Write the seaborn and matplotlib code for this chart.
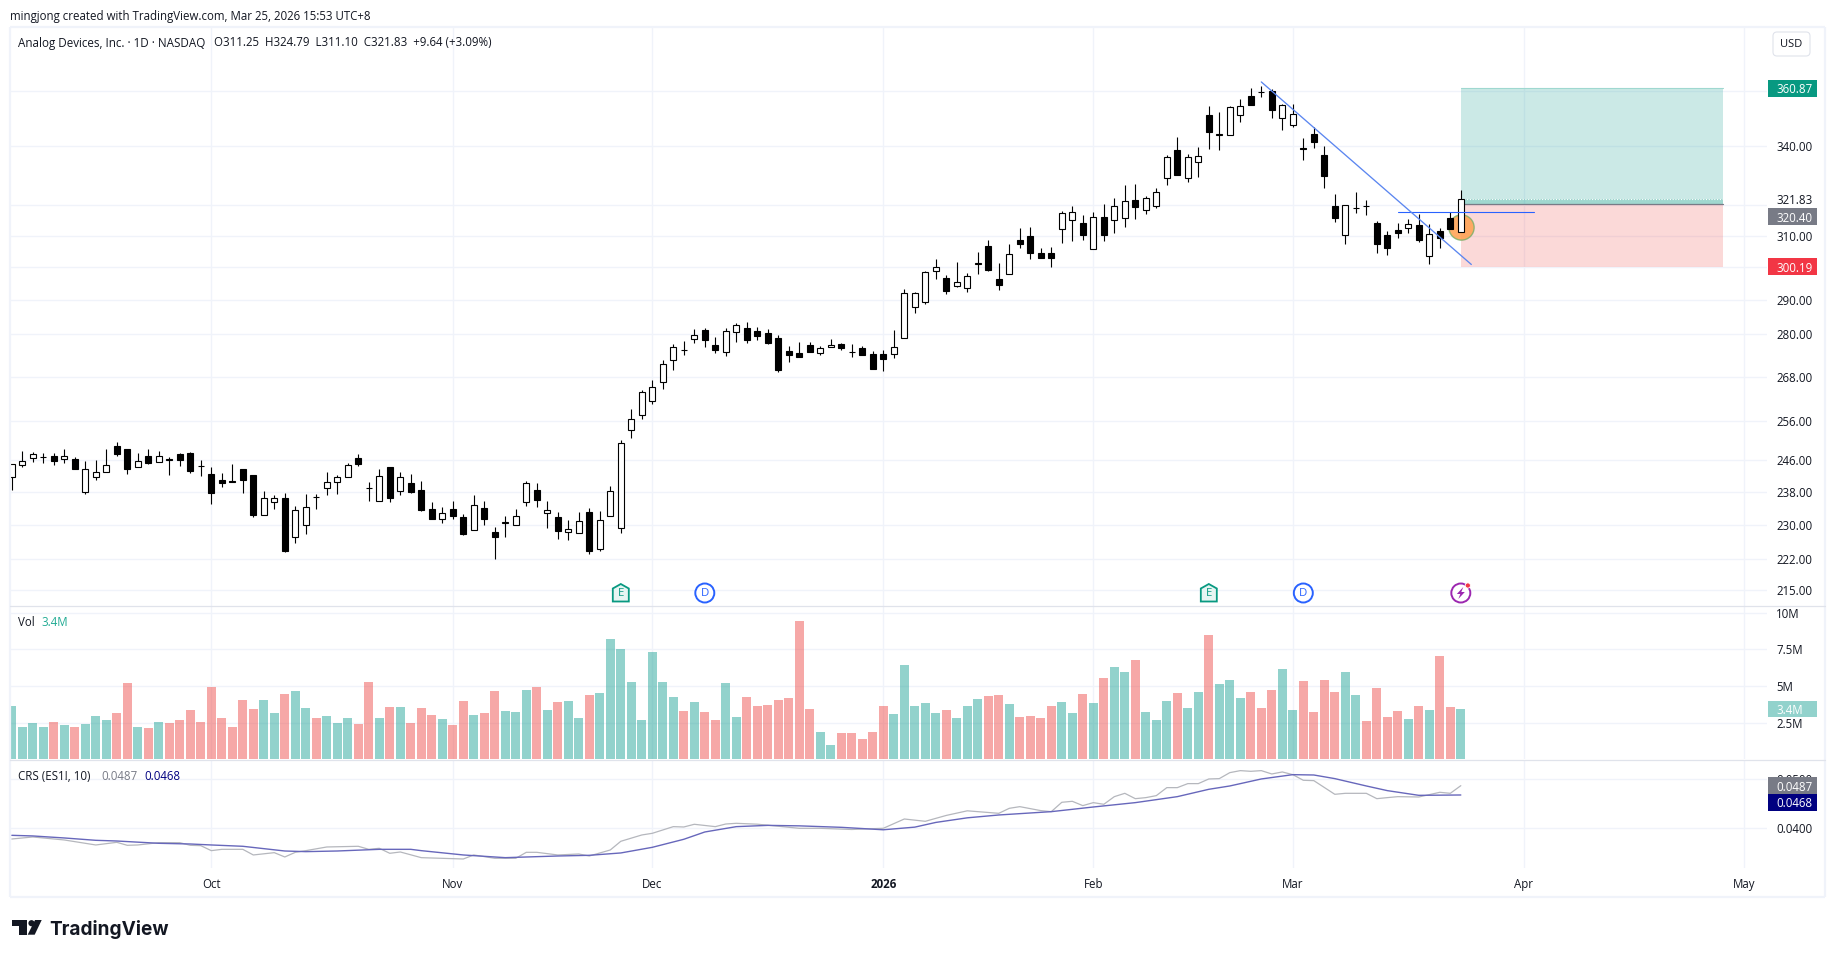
import numpy as np
import pandas as pd
import matplotlib
matplotlib.use("Agg")
import matplotlib.pyplot as plt
from matplotlib.patches import Rectangle, Polygon, Circle, FancyBboxPatch
from matplotlib.ticker import NullLocator
import seaborn as sns

# Daily bars of ADI; bar 0 is the first session of October 2025
bar_idx = np.arange(-19, 120)

opens = [241.5,244.75,246.5,246.6,246.8,246.15,246.05,237.95,241.5,242.8,
         249.6,248.6,244.25,246.8,245.5,246.1,247.3,247.8,244.4,242.4,
         240.9,240.5,243.6,242.1,232.4,235.35,236.4,227.0,229.9,236.8,
         238.95,240.3,241.5,246.3,239.0,235.8,244.1,238.2,240.1,238.4,
         233.75,231.45,233.75,231.85,228.7,234.0,228.3,230.5,230.0,235.5,
         238.4,232.9,231.85,228.35,228.1,233.05,224.3,232.15,229.3,253.75,
         257.6,261.3,266.6,272.7,275.6,278.5,281.2,276.85,274.95,280.75,
         281.8,280.95,280.35,278.9,275.1,274.55,276.85,274.65,276.3,277.15,
         275.0,276.0,274.3,274.3,274.35,278.95,288.0,289.5,299.0,296.8,
         294.4,293.8,301.2,306.7,296.5,298.1,308.65,309.95,304.45,304.45,
         312.1,315.0,314.15,305.8,316.1,314.9,315.55,321.6,318.45,319.75,
         328.85,338.65,328.85,334.65,351.1,344.1,344.05,351.2,357.95,359.55,
         359.75,350.1,347.6,339.2,344.3,336.95,319.65,310.35,318.8,319.65,
         314.15,310.25,311.85,312.3,313.5,303.45,311.55,315.75,311.25]
highs = [244.85,248.3,248.0,247.7,247.6,248.6,246.75,245.6,245.8,248.6,
         250.4,248.6,247.6,248.8,248.3,246.75,247.8,248.05,245.8,244.1,
         242.6,244.85,243.6,242.1,238.1,237.1,237.6,234.5,237.4,237.3,
         242.85,242.1,245.2,247.3,240.3,243.6,244.1,242.85,242.4,240.6,
         235.4,234.2,235.65,232.6,237.15,235.65,229.5,232.1,233.75,240.6,
         240.2,235.65,233.05,231.15,233.05,234.0,233.3,239.4,250.95,259.1,
         264.3,267.05,272.6,277.15,278.0,281.5,281.8,279.2,281.8,283.2,
         283.5,282.1,281.5,279.8,276.55,277.7,277.7,276.75,278.6,277.45,
         277.15,276.55,275.1,275.4,281.2,293.4,292.45,298.95,302.6,297.7,
         301.7,298.3,304.8,308.65,301.4,307.35,312.5,312.8,306.05,306.4,
         318.05,319.5,316.75,317.7,320.3,322.3,326.7,327.05,323.0,325.7,
         336.95,343.2,337.3,339.65,354.35,352.2,354.35,356.85,361.2,361.9,
         360.5,355.05,355.05,342.85,346.8,340.0,323.55,319.9,324.3,321.6,
         314.8,311.55,314.15,315.45,317.05,313.8,312.5,317.7,324.79]
lows = [238.4,244.2,245.4,245.15,244.6,245.15,243.6,237.4,240.9,242.8,
        246.8,242.4,244.25,244.9,245.5,242.1,244.3,242.7,241.85,234.95,
        239.1,240.4,237.6,231.9,232.4,233.75,223.55,225.7,227.8,233.75,
        237.1,237.4,241.5,244.3,235.65,235.8,235.4,237.1,237.6,233.3,
        231.4,230.4,231.4,227.55,228.7,229.95,222.1,227.1,230.0,234.45,
        234.2,229.2,226.6,226.4,228.1,223.1,223.8,232.15,228.05,251.45,
        256.5,260.45,264.55,269.95,274.0,277.4,276.3,274.55,273.75,277.7,
        277.45,278.3,277.15,269.4,272.05,273.45,274.85,274.0,276.3,275.4,
        273.45,274.0,270.2,269.65,273.15,278.95,286.1,288.85,296.5,291.85,
        294.0,292.45,298.0,298.95,293.1,297.85,306.05,302.6,302.9,300.05,
        307.65,308.3,308.65,305.8,308.3,310.9,312.85,315.45,317.05,319.0,
        326.7,330.1,327.75,329.4,339.0,338.65,344.05,348.6,354.7,357.6,
        350.0,345.7,346.9,335.2,339.3,325.7,314.45,307.35,317.4,316.75,
        304.45,303.85,309.3,310.9,308.0,301.05,306.05,312.2,311.10]
closes = [244.85,245.6,247.5,246.7,245.6,246.8,243.6,243.55,242.8,244.75,
          247.3,243.6,245.7,245.1,247.0,246.0,245.9,243.1,244.3,237.6,
          240.1,240.4,240.9,232.3,236.55,236.55,223.8,233.45,234.15,236.7,
          240.3,241.5,244.75,244.85,238.95,241.8,236.4,241.5,237.9,233.45,
          231.4,232.75,232.1,227.8,234.65,231.4,227.1,230.6,232.0,240.15,
          235.9,233.45,228.5,228.95,230.85,223.8,231.05,238.05,250.35,256.4,
          263.65,265.05,271.4,276.45,275.5,279.8,278.3,275.4,280.85,282.6,
          278.3,279.5,277.45,269.95,274.0,273.45,274.85,275.9,276.85,276.0,
          274.9,274.0,270.2,272.9,276.45,292.1,292.1,298.55,300.05,292.8,
          295.45,297.3,301.3,299.2,294.65,304.05,307.35,304.45,302.9,302.9,
          317.4,317.8,310.05,316.1,310.25,319.65,321.3,319.35,322.3,324.3,
          336.25,330.1,336.25,336.5,345.0,344.2,354.0,354.25,354.7,359.4,
          352.9,354.6,351.35,339.1,341.45,329.75,315.75,319.9,318.9,319.55,
          307.35,306.05,310.9,313.7,308.65,310.5,309.3,312.2,321.83]

# Share volume in millions
volume_m = [3.64,2.2,2.48,2.2,2.55,2.34,2.2,2.41,2.95,2.68,
            3.16,5.2,2.2,2.14,2.55,2.48,2.68,3.36,2.55,4.93,
            2.82,2.2,4.05,3.43,4.05,3.16,4.45,4.66,3.5,2.82,
            2.95,2.48,2.82,2.41,5.27,2.82,3.57,3.57,2.48,3.5,
            3.02,2.75,2.34,3.98,3.02,3.16,4.66,3.3,3.23,4.73,
            4.93,3.36,3.91,3.98,2.82,4.39,4.52,8.2,7.52,5.27,
            2.68,7.32,5.27,4.25,3.3,3.91,3.23,2.68,5.2,2.89,
            4.25,3.64,3.7,4.05,4.18,9.43,3.43,1.86,0.98,1.8,
            1.8,1.39,1.86,3.64,3.09,6.43,3.64,3.84,3.16,3.36,
            2.82,3.64,4.11,4.32,4.39,3.77,2.89,2.95,2.82,3.64,
            3.91,3.16,4.45,3.84,5.55,6.3,5.95,6.77,3.23,2.68,
            3.98,4.52,3.5,4.59,8.48,5.14,5.41,4.18,4.59,3.5,
            4.73,6.16,3.36,5.34,3.23,5.41,4.59,5.95,4.39,2.61,
            4.86,2.89,3.3,2.75,3.64,3.36,7.05,3.57,3.43]

# Comparative relative strength against ES1! and its 10-day average
crs_idx = [-19,-17,-14,-11,-9,-8,-7,-5,-3,-2,-1,0,1,3,4,6,7,8,9,11,14,15,16,17,18,20,24,25,27,29,
           30,31,33,35,36,38,39,41,42,44,45,46,48,49,50,52,56,58,61,64,66,68,70,72,75,76,77,79,80,81,
           82,83,84,85,86,87,88,89,90,91,92,93,94,95,96,97,98,99,100,101,102,103,104,105,107,108,110,
           111,112,113,115,117,118,119]
crs_raw = [.03782,.03823,.03762,.0366,.03714,.03653,.0366,.03707,.03707,.03653,.03646,.03544,.03571,
           .03571,.03456,.03503,.03415,.0351,.03544,.03619,.03633,.03571,.03592,.0349,.03517,.03401,
           .03374,.03456,.03388,.03388,.0351,.0351,.03456,.03476,.03435,.03558,.03735,.03864,.03898,
           .04034,.04027,.04082,.04034,.04088,.04102,.04084,.04,.04,.03976,.04,.0419,.04143,.04263,
           .04357,.04306,.04408,.04442,.04361,.0434,.04531,.04551,.04463,.04524,.0449,.04646,.04714,
           .04605,.04626,.04667,.0483,.0483,.04912,.04912,.05007,.05014,.05136,.05177,.05163,.05177,
           .05109,.0515,.05095,.0498,.04973,.04694,.04714,.04714,.04605,.04626,.04646,.04639,.04735,
           .04714,.0487]
avg_idx = [-19,-17,-14,-11,-9,-5,-2,0,3,7,9,12,16,19,20,24,28,33,36,39,42,45,47,50,53,56,60,64,
           67,69,72,75,80,84,88,92,95,97,100,103,105,107,110,112,115,119]
crs_avg = [.03857,.03844,.03803,.03755,.03741,.03694,.0368,.0366,.03633,.03537,.03524,.03537,
           .03571,.03571,.03544,.03456,.03401,.03435,.03449,.03497,.03612,.03776,.03925,.04034,
           .0406,.0405,.0402,.0397,.04024,.0412,.04214,.04272,.0434,.04435,.04524,.04646,.04796,
           .04864,.05007,.05095,.05088,.05014,.04864,.04769,.04673,.0468]

month_ticks = [0, 23, 42, 64, 84, 103, 125, 146]
month_labels = ["Oct", "Nov", "Dec", "2026", "Feb", "Mar", "Apr", "May"]
price_ticks = [360, 340, 320, 310, 300, 290, 280, 268, 256, 246, 238, 230, 222, 215]
price_labels = ["", "340.00", "", "310.00", "", "290.00", "280.00", "268.00", "256.00",
                "246.00", "238.00", "230.00", "222.00", "215.00"]
vol_ticks = [2.5, 5, 7.5, 10]
vol_labels = ["2.5M", "5M", "7.5M", "10M"]
crs_ticks = [0.04, 0.05]
crs_labels = ["0.0400", "0.0500"]

# Long position drawn on the chart, plus the trend line and breakout level
target_price = 360.87
stop_price = 300.19
entry_price = 320.40
last_close = closes[-1]
position_span = [119, 144]
trend_idx = [100, 120]
trend_price = [363.3, 300.9]
level_idx = [113, 126]
level_price = [317.5, 317.5]
signal_idx = 119
signal_price = 312.7
earnings_bars = [39, 95]
dividend_bars = [47, 104]

sns.set_theme(style="white")
plt.rcParams["font.family"] = ["Open Sans", "DejaVu Sans"]

W, H = 1835, 957
TEXT = "#131722"
GRID = "#f0f3fa"
UP = "#26a69a"
DOWN = "#ef5350"
FONT = 8.3


def pane(top, bottom, left=10, right=1767):
    return fig.add_axes([left / W, 1 - bottom / H, (right - left) / W, (bottom - top) / H])


fig = plt.figure(figsize=(W / 100, H / 100), dpi=100, facecolor="white")
price_ax = pane(27, 605.5)
vol_ax = pane(606, 759.3)
crs_ax = pane(760, 868)

# Candlesticks
bars = pd.DataFrame({"idx": bar_idx, "open": opens, "high": highs, "low": lows,
                     "close": closes, "volume": volume_m})
bars["up"] = bars["close"] >= bars["open"]
price_ax.set_yscale("log")
price_ax.fill_between(position_span, entry_price, target_price, color="#26a69a", alpha=0.24, lw=0, zorder=1)
price_ax.fill_between(position_span, stop_price, entry_price, color="#ef5350", alpha=0.22, lw=0, zorder=1)
price_ax.fill_between(position_span, entry_price, last_close, color="#089981", alpha=0.22, lw=0, zorder=1.1)
price_ax.plot(position_span, [target_price, target_price], color="#9fd8d0", lw=0.8, zorder=1.2)
price_ax.plot(position_span, [last_close, last_close], color="white", lw=0.8, ls=(0, (1, 1.5)), zorder=1.2)
price_ax.plot(position_span, [entry_price, entry_price], color="#787b86", lw=0.9, zorder=1.2)
price_ax.scatter([signal_idx], [signal_price], s=330, color="#ffa04d", alpha=0.85,
                 edgecolor="#7fb069", linewidth=1, zorder=2)
price_ax.vlines(bars["idx"], bars["low"], bars["high"], color="black", lw=0.8, zorder=3)
body_low = bars[["open", "close"]].min(axis=1)
body_high = bars[["open", "close"]].max(axis=1)
price_ax.bar(bars["idx"], body_high - body_low, bottom=body_low, width=0.58,
             color=np.where(bars["up"], "white", "black"), edgecolor="black", linewidth=0.8, zorder=4)
sns.lineplot(x=level_idx, y=level_price, ax=price_ax, color="#2962ff", lw=0.8, zorder=5)
sns.lineplot(x=trend_idx, y=trend_price, ax=price_ax, color="#5b86f0", lw=0.95, zorder=5)
price_ax.set_ylim(211.6, 384.5)

# Volume histogram
sns.barplot(data=bars, x="idx", y="volume", hue="up", palette={True: UP, False: DOWN},
            native_scale=True, dodge=False, width=0.88, alpha=0.5, saturation=1,
            errorbar=None, legend=False, linewidth=0, ax=vol_ax, zorder=3)
vol_ax.set_ylim(0, 10.46)

# Relative strength lines
sns.lineplot(x=crs_idx, y=crs_raw, ax=crs_ax, color="#b5b7bd", lw=0.9, zorder=3)
sns.lineplot(x=avg_idx, y=crs_avg, ax=crs_ax, color="#6767bb", lw=1.0, zorder=4)
crs_ax.set_ylim(0.0319, 0.05394)

# Shared axis styling for the three panes
pane_ticks = [(price_ax, price_ticks, price_labels), (vol_ax, vol_ticks, vol_labels),
              (crs_ax, crs_ticks, crs_labels)]
for ax, yt, yl in pane_ticks:
    ax.set_xlim(-19.17, 148.16)
    ax.set_xticks(month_ticks)
    ax.xaxis.set_minor_locator(NullLocator())
    ax.yaxis.set_minor_locator(NullLocator())
    ax.set_yticks(yt)
    ax.set_yticklabels(yl)
    ax.yaxis.tick_right()
    ax.set_xlabel("")
    ax.set_ylabel("")
    ax.grid(True, which="major", color=GRID, lw=1.0, zorder=0)
    ax.set_axisbelow(True)
    ax.tick_params(axis="y", which="both", length=0, pad=6.5, labelsize=FONT, labelcolor=TEXT)
    ax.tick_params(axis="x", which="both", length=0, labelbottom=False)
    sns.despine(ax=ax, left=True, bottom=True, right=True, top=True)
    ax.patch.set_alpha(0)
for label in price_ax.get_yticklabels():
    label.set_verticalalignment("center_baseline")
crs_ax.tick_params(axis="x", labelbottom=True, pad=7.2, labelsize=FONT, labelcolor=TEXT)
crs_ax.set_xticklabels(month_labels)
crs_ax.get_xticklabels()[3].set_fontweight("bold")

# Frame, price tags, legends and branding sit on a pixel-aligned layer
chrome = fig.add_axes([0, 0, 1, 1], zorder=10)
chrome.set_xlim(0, W)
chrome.set_ylim(H, 0)
chrome.axis("off")
chrome.patch.set_alpha(0)


def ypx(ax, value):
    return H - ax.transData.transform((0, value))[1]


def xpx(ax, i):
    return ax.transData.transform((i, ax.get_ylim()[0]))[0]


def tag(ax, value, text, color, shift=0):
    y = ypx(ax, value) + shift
    chrome.add_patch(Rectangle((1768, y - 8.4), 48.8, 16.8, color=color, lw=0))
    chrome.text(1776, y, text, color="white", fontsize=FONT, va="center_baseline", ha="left")


for x0, x1, y0, y1 in [(10, 1825, 27, 27), (10, 1825, 897, 897), (10, 10, 27, 897), (1825, 1825, 27, 897)]:
    chrome.plot([x0, x1], [y0, y1], color=GRID, lw=1.6, solid_capstyle="butt")
for y in (605.6, 759.6):
    chrome.plot([10, 1825], [y, y], color="#e0e3eb", lw=0.9)

chrome.text(1776, ypx(price_ax, last_close), "321.83", color=TEXT, fontsize=FONT, va="center_baseline")
tag(price_ax, target_price, "360.87", "#089981")
tag(price_ax, entry_price, "320.40", "#787b86", shift=12.9)
tag(price_ax, stop_price, "300.19", "#f23645")
tag(vol_ax, volume_m[-1], "3.4M", "#92d2cc")
tag(crs_ax, 0.0487, "0.0487", "#787b86")
tag(crs_ax, 0.0468, "0.0468", "#000080", shift=7.3)

chrome.add_patch(FancyBboxPatch((1773, 32), 37, 24, boxstyle="round,pad=0,rounding_size=4",
                                fc="white", ec="#e0e3eb", lw=0.8))
chrome.text(1791.5, 44.5, "USD", color=TEXT, fontsize=FONT - 0.3, ha="center", va="center")

chrome.text(10, 16.5, "mingjong created with TradingView.com, Mar 25, 2026 15:53 UTC+8",
            color=TEXT, fontsize=FONT, va="center")
chrome.text(18, 43, "Analog Devices, Inc. · 1D · NASDAQ", color=TEXT, fontsize=FONT + 0.1, va="center")
chrome.text(213.6, 43, "O311.25  H324.79  L311.10  C321.83  +9.64 (+3.09%)", color=TEXT, fontsize=FONT, va="center")
chrome.text(18, 622.5, "Vol", color=TEXT, fontsize=FONT, va="center")
chrome.text(41.5, 622.5, "3.4M", color="#22ab94", fontsize=FONT, va="center")
chrome.text(18, 776.5, "CRS (ES1!, 10)", color=TEXT, fontsize=FONT, va="center")
chrome.text(101, 776.5, "0.0487", color="#787b86", fontsize=FONT, va="center")
chrome.text(144, 776.5, "0.0468", color="#000080", fontsize=FONT, va="center")

# Earnings, dividend and news markers along the bottom of the price pane
MARK_Y = 593
for b in earnings_bars:
    x = xpx(price_ax, b)
    chrome.add_patch(Polygon([(x - 8, MARK_Y + 8.5), (x + 8, MARK_Y + 8.5), (x + 8, MARK_Y - 4.5),
                              (x, MARK_Y - 9), (x - 8, MARK_Y - 4.5)],
                             closed=True, fc="#e6f5f2", ec="#089981", lw=1.3))
    chrome.text(x, MARK_Y + 0.5, "E", color="#089981", fontsize=8.2, ha="center", va="center")
for b in dividend_bars:
    x = xpx(price_ax, b)
    chrome.add_patch(Circle((x, MARK_Y), 9.5, fc="white", ec="#2962ff", lw=1.4))
    chrome.text(x, MARK_Y, "D", color="#2962ff", fontsize=8.2, ha="center", va="center")
x = xpx(price_ax, signal_idx)
chrome.add_patch(Circle((x, MARK_Y), 9.5, fc="white", ec="#9c27b0", lw=1.4))
chrome.add_patch(Polygon([(x + 2.5, MARK_Y - 6), (x - 4, MARK_Y + 1), (x - 0.5, MARK_Y + 1),
                          (x - 2.5, MARK_Y + 6), (x + 4, MARK_Y - 1), (x + 0.5, MARK_Y - 1)],
                         closed=True, fc="#9c27b0", lw=0))
chrome.add_patch(Circle((x + 7, MARK_Y - 7.5), 2.6, fc="#f23645", ec="white", lw=0.6))

# TradingView wordmark
logo = "#131722"
chrome.add_patch(Polygon([(12.3, 920), (26.7, 920), (26.7, 934.7), (19.3, 934.7), (19.3, 926), (12.3, 926)],
                         closed=True, fc=logo, lw=0))
chrome.add_patch(Circle((31.5, 923.2), 3.1, fc=logo, lw=0))
chrome.add_patch(Polygon([(35, 920), (41.7, 920), (34.7, 934.7), (27.7, 934.7)], closed=True, fc=logo, lw=0))
chrome.text(49.5, 929.5, "TradingView", color=logo, fontsize=13.7, fontweight="bold",
            family=["Inter", "DejaVu Sans"], va="center")

fig.savefig("out.png", dpi=100, facecolor="white")
